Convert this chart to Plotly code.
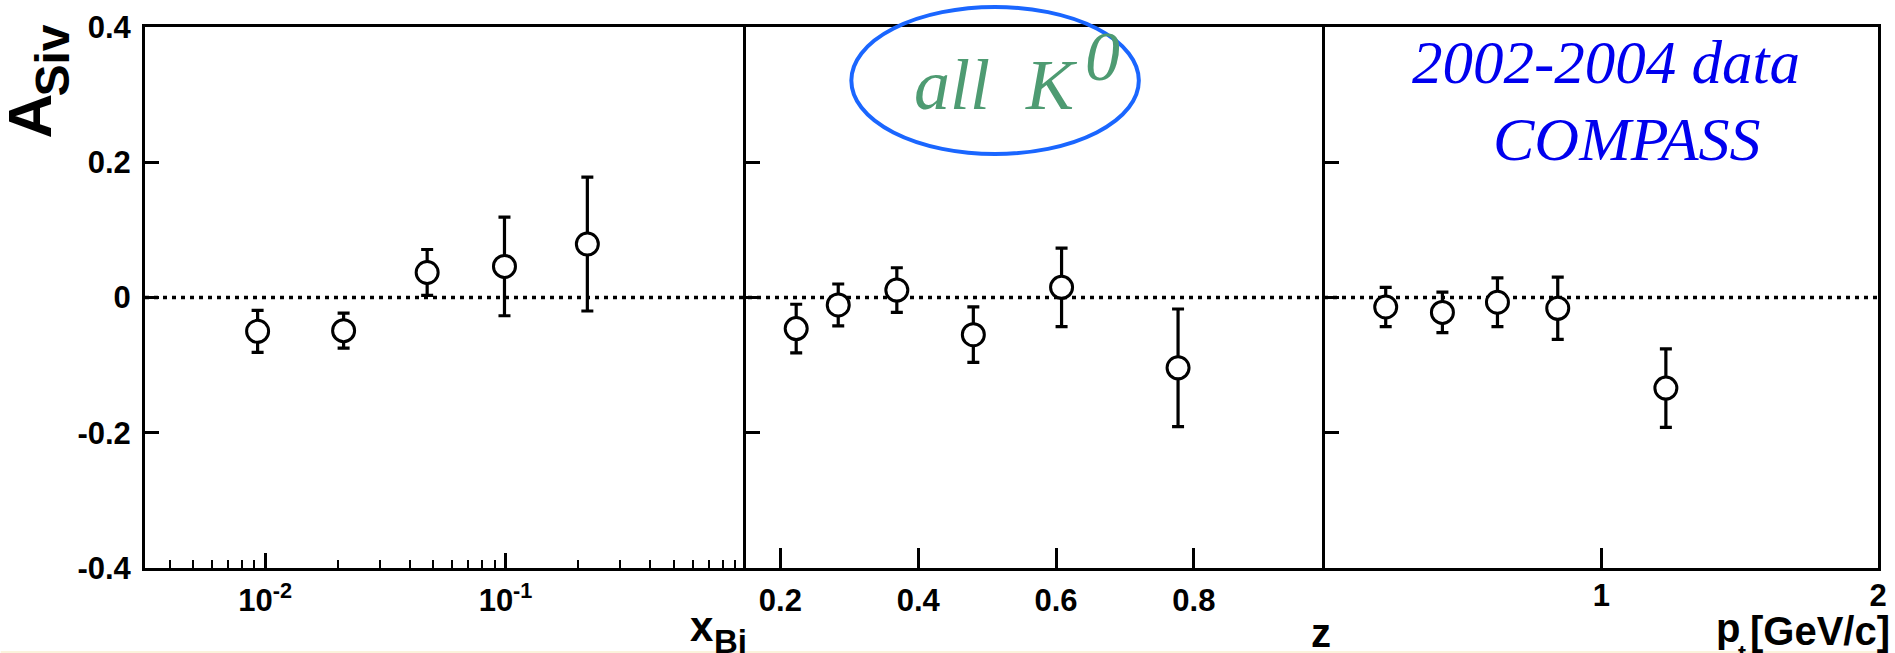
import plotly.graph_objects as go

# ---- data -------------------------------------------------------------
x_bj = [0.0093, 0.0212, 0.0472, 0.099, 0.219]
a_xbj = [-0.050, -0.049, 0.037, 0.046, 0.079]
e_xbj = [0.031, 0.026, 0.034, 0.073, 0.099]

z_vals = [0.223, 0.284, 0.369, 0.480, 0.608, 0.777]
a_z = [-0.046, -0.011, 0.011, -0.055, 0.015, -0.104]
e_z = [0.036, 0.031, 0.033, 0.041, 0.058, 0.087]

pt_vals = [0.220, 0.425, 0.624, 0.842, 1.233]
a_pt = [-0.014, -0.022, -0.007, -0.016, -0.134]
e_pt = [0.029, 0.030, 0.036, 0.046, 0.058]

y_ticks = [-0.4, -0.2, 0.0, 0.2, 0.4]
y_tick_text = ["-0.4", "-0.2", "0", "0.2", "0.4"]
xbj_ticks = [0.01, 0.1]
xbj_tick_text = ["10<sup>-2</sup>", "10<sup>-1</sup>"]
z_ticks = [0.2, 0.4, 0.6, 0.8]
z_tick_text = ["0.2", "0.4", "0.6", "0.8"]
pt_ticks = [1, 2]
pt_tick_text = ["1", "2"]

# ---- page geometry ----------------------------------------------------
W, H = 1895, 653
L, R, T, B = 145, 8, 27, 85
PW = W - L - R
PH = H - T - B


def px_x(p):
    return (p - L) / PW


def px_y(p):
    return (H - B - p) / PH


d1 = [0.0, px_x(749)]
d2 = [px_x(749), px_x(1331)]
d3 = [px_x(1331), 1.0]

tick_font = dict(family="Liberation Sans, Arial, sans-serif", size=31,
                 color="black", weight="bold")

marker = dict(symbol="circle", size=22, color="white",
              line=dict(color="black", width=3))


def err(arr):
    return dict(type="data", array=arr, thickness=3.2, width=6, color="black")


fig = go.Figure()
fig.add_trace(go.Scatter(x=x_bj, y=a_xbj, mode="markers", marker=marker,
                         error_y=err(e_xbj), xaxis="x", yaxis="y",
                         showlegend=False))
fig.add_trace(go.Scatter(x=z_vals, y=a_z, mode="markers", marker=marker,
                         error_y=err(e_z), xaxis="x2", yaxis="y2",
                         showlegend=False))
fig.add_trace(go.Scatter(x=pt_vals, y=a_pt, mode="markers", marker=marker,
                         error_y=err(e_pt), xaxis="x3", yaxis="y3",
                         showlegend=False))

base = dict(showline=True, linewidth=3, linecolor="black",
            showgrid=False, zeroline=False, ticks="inside",
            tickcolor="black", tickwidth=3)

minor_log = [m * 10 ** e for e in (-3, -2, -1) for m in range(2, 10)
             if 0.0035 < m * 10 ** e < 1]

fig.update_layout(
    width=W, height=H,
    margin=dict(l=L, r=R, t=T, b=B, pad=0),
    paper_bgcolor="white", plot_bgcolor="white",
    xaxis=dict(domain=d1, type="log", range=[-2.5, 0], anchor="y",
               mirror=True, tickvals=xbj_ticks, ticktext=xbj_tick_text,
               ticklen=15, tickfont=tick_font, ticklabelstandoff=3,
               minor=dict(tickvals=minor_log, ticklen=8, tickwidth=2,
                          ticks="inside", tickcolor="black"),
               **base),
    xaxis2=dict(domain=d2, range=[0.15, 0.99], anchor="y2", mirror=True,
                tickvals=z_ticks, ticktext=z_tick_text, ticklen=20,
                tickfont=tick_font, ticklabelstandoff=3, **base),
    xaxis3=dict(domain=d3, range=[0, 2], anchor="y3", mirror=True,
                tickvals=pt_ticks, ticktext=pt_tick_text, ticklen=20,
                tickfont=tick_font, ticklabelstandoff=-2, **base),
    yaxis=dict(domain=[0, 1], range=[-0.4, 0.4], anchor="x", mirror=False,
               tickvals=y_ticks, ticktext=y_tick_text, ticklen=14,
               tickfont=tick_font, ticklabelstandoff=5, **base),
    yaxis2=dict(domain=[0, 1], range=[-0.4, 0.4], anchor="x2", mirror=False,
                tickvals=y_ticks, ticklen=14, showticklabels=False, **base),
    yaxis3=dict(domain=[0, 1], range=[-0.4, 0.4], anchor="x3", mirror=True,
                tickvals=y_ticks, ticklen=14, showticklabels=False, **base),
)

# dotted zero line across all panels
fig.add_shape(type="line", xref="paper", yref="y", x0=0, x1=1, y0=0, y1=0,
              line=dict(color="black", width=3.5, dash="4px,5px"),
              layer="below")

# ellipse around the particle label
fig.add_shape(type="circle", xref="paper", yref="paper",
              x0=px_x(855), x1=px_x(1144), y0=px_y(154), y1=px_y(7),
              line=dict(color="#1a66ff", width=4), layer="above")

# thin strip at the bottom edge
fig.add_shape(type="rect", xref="paper", yref="paper",
              x0=px_x(0), x1=px_x(W), y0=px_y(H), y1=px_y(651),
              fillcolor="#fbf3dc", line=dict(width=0), layer="above")

serif_it = dict(family="Liberation Serif, Times New Roman, serif",
                style="italic")
bold_sans = dict(family="Liberation Sans, Arial, sans-serif", weight="bold",
                 color="black")
green = "#4e9b72"
blue = "#0000ee"

annotations = [
    # particle label
    dict(text="all\u00a0\u00a0K", x=px_x(1085), y=px_y(85),
         xanchor="right", yanchor="middle",
         font=dict(size=72, color=green, **serif_it)),
    dict(text="0", x=px_x(1088), y=px_y(56), xanchor="left", yanchor="middle",
         font=dict(size=70, color=green, **serif_it)),
    # experiment label
    dict(text="2002-2004 data", x=px_x(1614), y=px_y(63),
         xanchor="center", yanchor="middle",
         font=dict(size=61, color=blue, **serif_it)),
    dict(text="COMPASS", x=px_x(1635), y=px_y(139),
         xanchor="center", yanchor="middle",
         font=dict(size=62, color=blue, **serif_it)),
    # y-axis title
    dict(text="A", x=px_x(29), y=px_y(116), xanchor="center",
         yanchor="middle", textangle=-90, font=dict(size=62, **bold_sans)),
    dict(text="Siv", x=px_x(52), y=px_y(60), xanchor="center",
         yanchor="middle", textangle=-90, font=dict(size=48, **bold_sans)),
    # x-axis titles
    dict(text="x", x=px_x(719), y=px_y(626), xanchor="right",
         yanchor="middle", font=dict(size=42, **bold_sans)),
    dict(text="Bj", x=px_x(715), y=px_y(641), xanchor="left",
         yanchor="middle", font=dict(size=33, **bold_sans)),
    dict(text="z", x=px_x(1339), y=px_y(633), xanchor="right",
         yanchor="middle", font=dict(size=40, **bold_sans)),
    dict(text="p", x=px_x(1750), y=px_y(628), xanchor="right",
         yanchor="middle", font=dict(size=40, **bold_sans)),
    dict(text="t", x=px_x(1744), y=px_y(653), xanchor="left",
         yanchor="middle", font=dict(size=24, **bold_sans)),
    dict(text="[GeV/c]", x=px_x(1901), y=px_y(631), xanchor="right",
         yanchor="middle", font=dict(size=40, **bold_sans)),
]
for a in annotations:
    a.update(xref="paper", yref="paper", showarrow=False)
fig.update_layout(annotations=annotations)

fig.write_html("out.html")
